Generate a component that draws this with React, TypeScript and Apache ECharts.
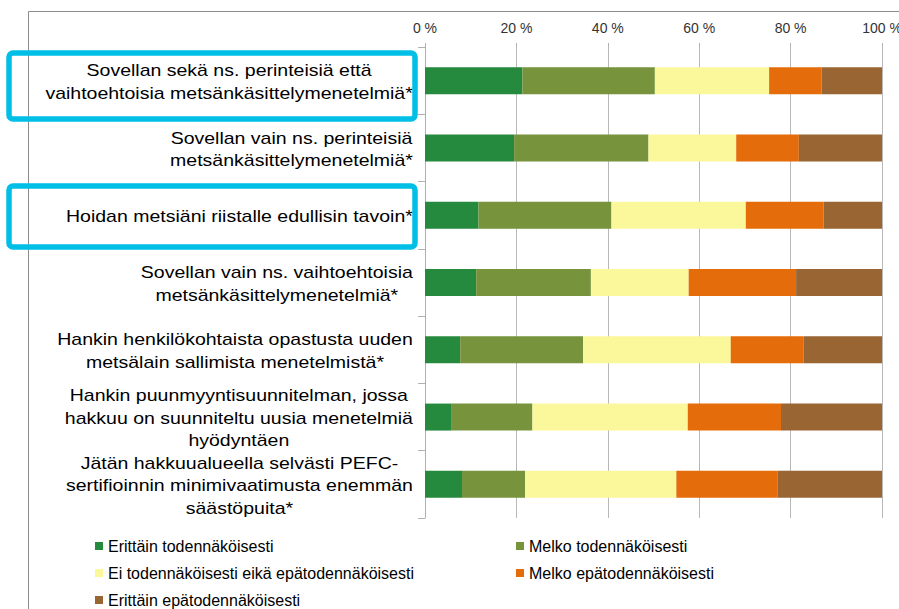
import React, { useEffect, useRef } from "react";
import * as echarts from "echarts";

const categories: string[] = [
  "Sovellan sekä ns. perinteisiä että\nvaihtoehtoisia metsänkäsittelymenetelmiä*",
  "Sovellan vain ns. perinteisiä\nmetsänkäsittelymenetelmiä*",
  "Hoidan metsiäni riistalle edullisin tavoin*",
  "Sovellan vain ns. vaihtoehtoisia\nmetsänkäsittelymenetelmiä*",
  "Hankin henkilökohtaista opastusta uuden\nmetsälain sallimista menetelmistä*",
  "Hankin puunmyyntisuunnitelman, jossa\nhakkuu on suunniteltu uusia menetelmiä\nhyödyntäen",
  "Jätän hakkuualueella selvästi PEFC-\nsertifioinnin minimivaatimusta enemmän\nsäästöpuita*",
];

const seriesNames: string[] = [
  "Erittäin todennäköisesti",
  "Melko todennäköisesti",
  "Ei todennäköisesti eikä epätodennäköisesti",
  "Melko epätodennäköisesti",
  "Erittäin epätodennäköisesti",
];

const erittainTodennakoisesti: number[] = [21.3, 19.5, 11.7, 11.2, 7.7, 5.7, 8.1];
const melkoTodennakoisesti: number[] = [29.0, 29.4, 29.1, 25.1, 26.9, 17.8, 13.8];
const eiKumpikaan: number[] = [25.0, 19.2, 29.4, 21.4, 32.3, 34.0, 33.1];
const melkoEpatodennakoisesti: number[] = [11.5, 13.7, 17.0, 23.5, 15.9, 20.4, 22.2];
const erittainEpatodennakoisesti: number[] = [13.2, 18.2, 12.8, 18.8, 17.2, 22.1, 22.8];

const colors: string[] = ["#268A3E", "#77933C", "#FBF79B", "#E46C0A", "#996633"];

const FONT = "'Liberation Sans', Arial, sans-serif";

export default function App() {
  const ref = useRef<HTMLDivElement>(null);

  useEffect(() => {
    document.body.style.margin = "0";
    if (!ref.current) return;
    const chart = echarts.init(ref.current, undefined, { renderer: "svg" });
    const values = [
      erittainTodennakoisesti,
      melkoTodennakoisesti,
      eiKumpikaan,
      melkoEpatodennakoisesti,
      erittainEpatodennakoisesti,
    ];
    const series = seriesNames.map((name, i) => ({
      name,
      type: "bar",
      stack: "total",
      barWidth: 27,
      data: values[i],
      itemStyle: { color: colors[i] },
      emphasis: { disabled: true },
    }));

    const legendBase = {
      orient: "vertical",
      top: 538,
      padding: 0,
      icon: "rect",
      itemWidth: 8,
      itemHeight: 8,
      itemGap: 11,
      selectedMode: false,
      textStyle: { fontSize: 16, color: "#000000", fontFamily: FONT, lineHeight: 16 },
    };

    chart.setOption({
      animation: false,
      backgroundColor: "#ffffff",
      textStyle: { fontFamily: FONT },
      grid: {
        left: 425,
        right: 17,
        top: 47,
        bottom: 91,
        containLabel: false,
        outerBoundsMode: "none",
      },
      xAxis: {
        type: "value",
        position: "top",
        min: 0,
        max: 100,
        interval: 20,
        axisLine: { show: false },
        axisTick: { show: true, length: 4, lineStyle: { color: "#B0B0B0" } },
        splitLine: { show: true, lineStyle: { color: "#B8B8B8", width: 1 } },
        axisLabel: {
          formatter: "{value} %",
          fontSize: 14,
          color: "#333333",
          fontFamily: FONT,
          margin: 12,
        },
      },
      yAxis: {
        type: "category",
        inverse: true,
        data: categories,
        axisLine: { show: true, lineStyle: { color: "#B0B0B0" } },
        axisTick: { show: true, length: 7, lineStyle: { color: "#B0B0B0" } },
        axisLabel: { show: false },
      },
      legend: [
        { ...legendBase, data: [seriesNames[0], seriesNames[2], seriesNames[4]], left: 95 },
        { ...legendBase, data: [seriesNames[1], seriesNames[3]], left: 516 },
      ],
      series,
    });

    // Category labels: each block right-aligned at x=413, lines centred within block
    const STRETCH = 1.22;
    const canvas = document.createElement("canvas");
    const ctx = canvas.getContext("2d")!;
    ctx.font = `16px ${FONT}`;
    const labelGraphics = categories.map((cat, i) => {
      const lines = cat.split("\n");
      const w = Math.max(...lines.map((l) => ctx.measureText(l).width)) * STRETCH;
      const y = chart.convertToPixel({ yAxisIndex: 0 }, i) as number;
      return {
        type: "text",
        silent: true,
        x: 413 - w / 2,
        y: y + 1.5,
        scaleX: STRETCH,
        style: {
          text: cat,
          font: `16px ${FONT}`,
          fill: "#000000",
          align: "center",
          verticalAlign: "middle",
          lineHeight: 22.5,
        },
      };
    });

    chart.setOption({
      graphic: [
        {
          type: "polyline",
          z: -1,
          silent: true,
          shape: { points: [[28.5, 620], [28.5, 11.5], [910, 11.5]] },
          style: { stroke: "#8C8C8C", lineWidth: 1, fill: "none" },
        },
        ...labelGraphics,
        {
          type: "rect",
          z: 100,
          silent: true,
          shape: { x: 9, y: 53, width: 406, height: 66, r: 4 },
          style: { stroke: "#00BFE7", lineWidth: 5.5, fill: "none" },
        },
        {
          type: "rect",
          z: 100,
          silent: true,
          shape: { x: 9, y: 186, width: 406, height: 61, r: 4 },
          style: { stroke: "#00BFE7", lineWidth: 5.5, fill: "none" },
        },
      ],
    });
    return () => chart.dispose();
  }, []);

  return <div ref={ref} style={{ width: 899, height: 609 }} />;
}
